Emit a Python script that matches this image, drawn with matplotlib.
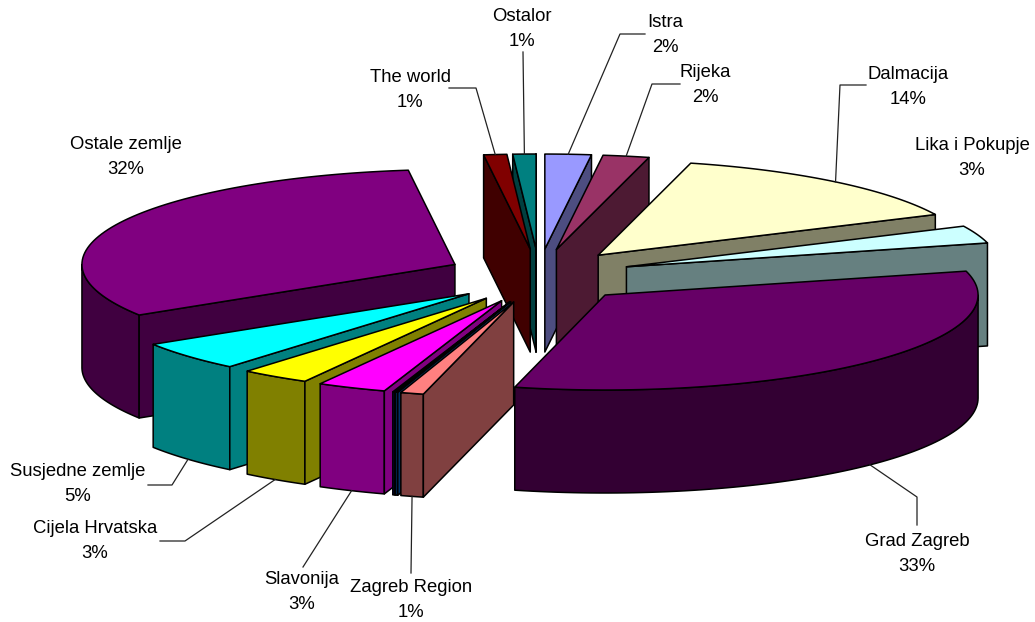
#!/usr/bin/python3

import matplotlib
matplotlib.use('Agg')
import numpy as np
import matplotlib.pyplot as plt

plt.rcParams['font.family'] = ['Liberation Sans', 'DejaVu Sans']

# clockwise from 12 o'clock; empty names are the tiny unlabelled slices
names = ["Istra", "Rijeka", "Dalmacija", "Lika i Pokupje", "Grad Zagreb",
         "Zagreb Region", "", "", "Slavonija", "Cijela Hrvatska",
         "Susjedne zemlje", "Ostale zemlje", "The world", "Ostalor"]
shares = [2, 2, 14, 3, 33, 1, 0.1, 0.1, 3, 3, 5, 32, 1, 1]
top_colors = ["#9999FF", "#993366", "#FFFFCC", "#CCFFFF", "#660066", "#FF8080",
              "#0066CC", "#000080", "#FF00FF", "#FFFF00", "#00FFFF", "#800080",
              "#800000", "#008080"]

# label centre and leader elbow points, in pixels
label_pos = {"Istra": (665, 35), "Rijeka": (705, 85), "Dalmacija": (908, 87),
             "Lika i Pokupje": (972, 158), "Grad Zagreb": (917, 554),
             "Zagreb Region": (411, 600), "Slavonija": (302, 592),
             "Cijela Hrvatska": (95, 541), "Susjedne zemlje": (78, 484),
             "Ostale zemlje": (126, 157), "The world": (410, 90), "Ostalor": (522, 29)}
leaders = {"Istra": [(645, 34), (620, 34)], "Rijeka": [(680, 84), (652, 84)],
           "Dalmacija": [(866, 85), (840, 85)], "Grad Zagreb": [(917, 525), (917, 497)],
           "Zagreb Region": [(411, 573)], "Slavonija": [(303, 567)],
           "Cijela Hrvatska": [(160, 541), (185, 541)],
           "Susjedne zemlje": [(148, 485), (172, 485)],
           "The world": [(449, 88), (476, 88)], "Ostalor": [(523, 52)]}

CX, CY = 539, 276      # pie centre
RX, RY = 373, 95       # ellipse of the top face
DEPTH = 103            # height of the pie
EX, EY = 93, 27        # how far slices are pulled out

fig = plt.figure(figsize=(10.35, 6.22), dpi=100)
ax = fig.add_axes([0, 0, 1, 1])
ax.set_xlim(0, 1035)
ax.set_ylim(622, 0)
ax.axis('off')


def rim(cx, cy, a, b, n=80):
    t = np.linspace(a, b, n)
    return cx + RX * np.sin(t), cy - RY * np.cos(t)


def darker(col):
    return tuple(0.5 * c for c in matplotlib.colors.to_rgb(col))


def poly(xs, ys, col, z):
    ax.fill(xs, ys, facecolor=col, edgecolor='k', linewidth=1.1, joinstyle='round', zorder=z)


fracs = np.array(shares, dtype=float) / sum(shares)
edges = np.concatenate([[0], np.cumsum(fracs)]) * 2 * np.pi
mids = (edges[:-1] + edges[1:]) / 2
ox = CX + EX * np.sin(mids)
oy = CY - EY * np.cos(mids)

# slices further back get painted first
z = 1
for i in np.argsort(oy):
    a, b = edges[i], edges[i + 1]
    side = darker(top_colors[i])
    x0, y0 = ox[i], oy[i]

    # rim wall, only the part on the near half of the ellipse
    lo, hi = max(a, np.pi / 2), min(b, 3 * np.pi / 2)
    if lo < hi:
        xs, ys = rim(x0, y0, lo, hi)
        poly(np.r_[xs, xs[::-1]], np.r_[ys, ys[::-1] + DEPTH], side, z)
        z += 1

    # cut faces that turn towards the viewer
    for t, visible in ((a, np.sin(a) < 0), (b, np.sin(b) > 0)):
        if visible:
            xe, ye = x0 + RX * np.sin(t), y0 - RY * np.cos(t)
            poly([x0, xe, xe, x0], [y0, ye, ye + DEPTH, y0 + DEPTH], side, z)
            z += 1

    xs, ys = rim(x0, y0, a, b)
    poly(np.r_[x0, xs], np.r_[y0, ys], top_colors[i], z)
    z += 1

for i, name in enumerate(names):
    if not name:
        continue
    xt, yt = label_pos[name]
    ax.text(xt, yt, "%s\n%d%%" % (name, round(shares[i])), ha='center', va='center',
            fontsize=13.3, linespacing=1.58, color='k', zorder=z + 1)
    if name in leaders:
        xe = ox[i] + RX * np.sin(mids[i])
        ye = oy[i] - RY * np.cos(mids[i])
        if np.cos(mids[i]) < 0:
            ye += DEPTH
        pts = leaders[name] + [(xe, ye)]
        ax.plot([p[0] for p in pts], [p[1] for p in pts], color='#222222', linewidth=0.9, zorder=z)

fig.savefig('out.png', dpi=100)
